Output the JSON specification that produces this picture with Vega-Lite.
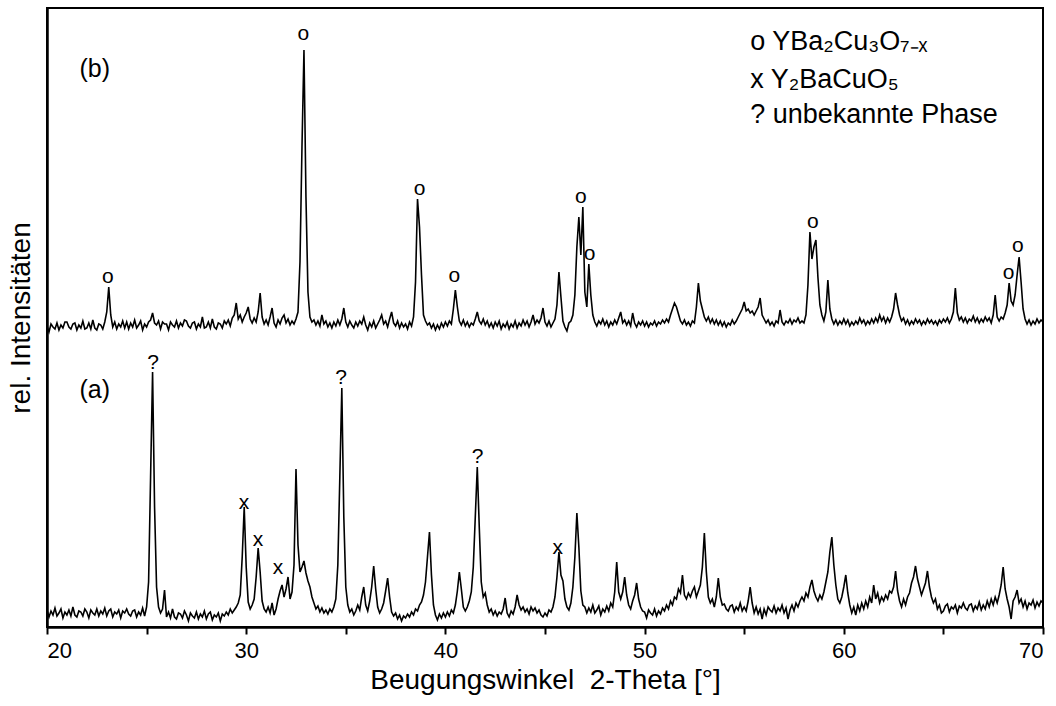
{
"$schema": "https://vega.github.io/schema/vega-lite/v6.json",
"width": 996, "height": 619, "autosize": "none",
"padding": {"left": 47, "top": 8, "right": 13, "bottom": 79},
"config": {"font": "Liberation Sans", "view": {"stroke": "black", "strokeWidth": 2},
 "axis": {"grid": false, "domainColor": "black", "tickColor": "black", "labelColor": "black", "titleColor": "black", "titleFontWeight": "normal"}},
"datasets": {
"xrd": [
{"x":20.0,"a":17,"b":301},{"x":20.1,"a":10,"b":295},{"x":20.2,"a":16,"b":303},{"x":20.3,"a":12,"b":300},{"x":20.4,"a":19,"b":298},{"x":20.5,"a":11,"b":304},{"x":20.6,"a":14,"b":297},{"x":20.7,"a":18,"b":302},{"x":20.8,"a":9,"b":299},{"x":20.9,"a":15,"b":305},
{"x":21.0,"a":12,"b":305},{"x":21.1,"a":17,"b":300},{"x":21.2,"a":11,"b":298},{"x":21.3,"a":20,"b":303},{"x":21.4,"a":12,"b":304},{"x":21.5,"a":10,"b":297},{"x":21.6,"a":16,"b":302},{"x":21.7,"a":15,"b":299},{"x":21.8,"a":11,"b":306},{"x":21.9,"a":18,"b":298},
{"x":22.0,"a":15,"b":299},{"x":22.1,"a":9,"b":304},{"x":22.2,"a":17,"b":298},{"x":22.3,"a":14,"b":307},{"x":22.4,"a":12,"b":299},{"x":22.5,"a":18,"b":297},{"x":22.6,"a":11,"b":303},{"x":22.7,"a":16,"b":302},{"x":22.8,"a":13,"b":298},{"x":22.9,"a":19,"b":305},
{"x":23.0,"a":11,"b":315},{"x":23.1,"a":16,"b":340},{"x":23.2,"a":18,"b":312},{"x":23.3,"a":10,"b":300},{"x":23.4,"a":15,"b":305},{"x":23.5,"a":13,"b":298},{"x":23.6,"a":17,"b":303},{"x":23.7,"a":9,"b":300},{"x":23.8,"a":16,"b":306},{"x":23.9,"a":14,"b":299},
{"x":24.0,"a":18,"b":305},{"x":24.1,"a":13,"b":298},{"x":24.2,"a":11,"b":304},{"x":24.3,"a":16,"b":300},{"x":24.4,"a":17,"b":307},{"x":24.5,"a":10,"b":299},{"x":24.6,"a":15,"b":302},{"x":24.7,"a":12,"b":306},{"x":24.8,"a":19,"b":297},{"x":24.9,"a":11,"b":303},
{"x":25.0,"a":20,"b":300},{"x":25.1,"a":45,"b":305},{"x":25.2,"a":150,"b":307},{"x":25.3,"a":255,"b":314},{"x":25.4,"a":120,"b":304},{"x":25.5,"a":40,"b":302},{"x":25.6,"a":20,"b":306},{"x":25.7,"a":14,"b":298},{"x":25.8,"a":18,"b":305},{"x":25.9,"a":37,"b":303},
{"x":26.0,"a":10,"b":303},{"x":26.1,"a":15,"b":297},{"x":26.2,"a":9,"b":305},{"x":26.3,"a":18,"b":302},{"x":26.4,"a":10,"b":300},{"x":26.5,"a":8,"b":306},{"x":26.6,"a":14,"b":299},{"x":26.7,"a":13,"b":304},{"x":26.8,"a":9,"b":301},{"x":26.9,"a":16,"b":307},
{"x":27.0,"a":12,"b":306},{"x":27.1,"a":6,"b":301},{"x":27.2,"a":14,"b":299},{"x":27.3,"a":11,"b":304},{"x":27.4,"a":9,"b":305},{"x":27.5,"a":15,"b":298},{"x":27.6,"a":8,"b":303},{"x":27.7,"a":13,"b":300},{"x":27.8,"a":10,"b":310},{"x":27.9,"a":16,"b":299},
{"x":28.0,"a":8,"b":300},{"x":28.1,"a":13,"b":305},{"x":28.2,"a":15,"b":299},{"x":28.3,"a":7,"b":308},{"x":28.4,"a":12,"b":300},{"x":28.5,"a":10,"b":298},{"x":28.6,"a":14,"b":304},{"x":28.7,"a":6,"b":303},{"x":28.8,"a":13,"b":299},{"x":28.9,"a":11,"b":306},
{"x":29.0,"a":15,"b":303},{"x":29.1,"a":12,"b":307},{"x":29.2,"a":18,"b":301},{"x":29.3,"a":14,"b":309},{"x":29.4,"a":17,"b":312},{"x":29.5,"a":20,"b":324},{"x":29.6,"a":24,"b":308},{"x":29.7,"a":32,"b":312},{"x":29.8,"a":70,"b":305},{"x":29.9,"a":120,"b":310},
{"x":30.0,"a":60,"b":314},{"x":30.1,"a":25,"b":320},{"x":30.2,"a":18,"b":308},{"x":30.3,"a":22,"b":304},{"x":30.4,"a":28,"b":309},{"x":30.5,"a":50,"b":305},{"x":30.6,"a":79,"b":315},{"x":30.7,"a":55,"b":334},{"x":30.8,"a":26,"b":310},{"x":30.9,"a":18,"b":303},
{"x":31.0,"a":15,"b":307},{"x":31.1,"a":20,"b":302},{"x":31.2,"a":14,"b":310},{"x":31.3,"a":24,"b":319},{"x":31.4,"a":12,"b":304},{"x":31.5,"a":18,"b":300},{"x":31.6,"a":28,"b":307},{"x":31.7,"a":36,"b":303},{"x":31.8,"a":42,"b":309},{"x":31.9,"a":30,"b":312},
{"x":32.0,"a":38,"b":304},{"x":32.1,"a":50,"b":308},{"x":32.2,"a":28,"b":302},{"x":32.3,"a":35,"b":306},{"x":32.4,"a":62,"b":303},{"x":32.5,"a":158,"b":308},{"x":32.6,"a":82,"b":315},{"x":32.7,"a":55,"b":365},{"x":32.8,"a":60,"b":480},{"x":32.9,"a":66,"b":577},
{"x":33.0,"a":54,"b":430},{"x":33.1,"a":46,"b":335},{"x":33.2,"a":40,"b":310},{"x":33.3,"a":30,"b":305},{"x":33.4,"a":24,"b":307},{"x":33.5,"a":18,"b":302},{"x":33.6,"a":21,"b":306},{"x":33.7,"a":15,"b":301},{"x":33.8,"a":19,"b":312},{"x":33.9,"a":14,"b":303},
{"x":34.0,"a":17,"b":306},{"x":34.1,"a":13,"b":300},{"x":34.2,"a":18,"b":304},{"x":34.3,"a":15,"b":299},{"x":34.4,"a":20,"b":305},{"x":34.5,"a":28,"b":301},{"x":34.6,"a":62,"b":307},{"x":34.7,"a":150,"b":302},{"x":34.8,"a":239,"b":308},{"x":34.9,"a":110,"b":319},
{"x":35.0,"a":40,"b":305},{"x":35.1,"a":22,"b":300},{"x":35.2,"a":15,"b":306},{"x":35.3,"a":18,"b":302},{"x":35.4,"a":12,"b":299},{"x":35.5,"a":16,"b":305},{"x":35.6,"a":22,"b":301},{"x":35.7,"a":17,"b":306},{"x":35.8,"a":30,"b":303},{"x":35.9,"a":40,"b":310},
{"x":36.0,"a":22,"b":302},{"x":36.1,"a":16,"b":297},{"x":36.2,"a":26,"b":304},{"x":36.3,"a":40,"b":300},{"x":36.4,"a":61,"b":306},{"x":36.5,"a":38,"b":299},{"x":36.6,"a":20,"b":303},{"x":36.7,"a":14,"b":307},{"x":36.8,"a":18,"b":312},{"x":36.9,"a":24,"b":303},
{"x":37.0,"a":36,"b":306},{"x":37.1,"a":49,"b":300},{"x":37.2,"a":30,"b":308},{"x":37.3,"a":15,"b":315},{"x":37.4,"a":11,"b":304},{"x":37.5,"a":14,"b":301},{"x":37.6,"a":8,"b":306},{"x":37.7,"a":12,"b":299},{"x":37.8,"a":6,"b":304},{"x":37.9,"a":11,"b":300},
{"x":38.0,"a":9,"b":303},{"x":38.1,"a":13,"b":298},{"x":38.2,"a":10,"b":305},{"x":38.3,"a":15,"b":301},{"x":38.4,"a":12,"b":310},{"x":38.5,"a":18,"b":345},{"x":38.6,"a":16,"b":428},{"x":38.7,"a":22,"b":400},{"x":38.8,"a":25,"b":352},{"x":38.9,"a":32,"b":312},
{"x":39.0,"a":45,"b":306},{"x":39.1,"a":70,"b":302},{"x":39.2,"a":95,"b":304},{"x":39.3,"a":52,"b":299},{"x":39.4,"a":22,"b":303},{"x":39.5,"a":12,"b":297},{"x":39.6,"a":7,"b":302},{"x":39.7,"a":13,"b":298},{"x":39.8,"a":9,"b":304},{"x":39.9,"a":14,"b":300},
{"x":40.0,"a":10,"b":305},{"x":40.1,"a":15,"b":301},{"x":40.2,"a":11,"b":306},{"x":40.3,"a":17,"b":303},{"x":40.4,"a":14,"b":318},{"x":40.5,"a":22,"b":337},{"x":40.6,"a":36,"b":320},{"x":40.7,"a":55,"b":306},{"x":40.8,"a":38,"b":302},{"x":40.9,"a":20,"b":307},
{"x":41.0,"a":16,"b":301},{"x":41.1,"a":20,"b":305},{"x":41.2,"a":26,"b":300},{"x":41.3,"a":35,"b":304},{"x":41.4,"a":60,"b":302},{"x":41.5,"a":110,"b":308},{"x":41.6,"a":160,"b":315},{"x":41.7,"a":100,"b":306},{"x":41.8,"a":45,"b":303},{"x":41.9,"a":30,"b":308},
{"x":42.0,"a":34,"b":302},{"x":42.1,"a":22,"b":306},{"x":42.2,"a":15,"b":300},{"x":42.3,"a":18,"b":304},{"x":42.4,"a":12,"b":299},{"x":42.5,"a":16,"b":305},{"x":42.6,"a":11,"b":301},{"x":42.7,"a":15,"b":306},{"x":42.8,"a":13,"b":298},{"x":42.9,"a":18,"b":303},
{"x":43.0,"a":29,"b":300},{"x":43.1,"a":14,"b":305},{"x":43.2,"a":10,"b":298},{"x":43.3,"a":16,"b":303},{"x":43.4,"a":13,"b":300},{"x":43.5,"a":20,"b":306},{"x":43.6,"a":32,"b":299},{"x":43.7,"a":22,"b":304},{"x":43.8,"a":17,"b":301},{"x":43.9,"a":20,"b":307},
{"x":44.0,"a":15,"b":302},{"x":44.1,"a":18,"b":306},{"x":44.2,"a":13,"b":300},{"x":44.3,"a":20,"b":305},{"x":44.4,"a":16,"b":312},{"x":44.5,"a":19,"b":303},{"x":44.6,"a":14,"b":307},{"x":44.7,"a":17,"b":304},{"x":44.8,"a":12,"b":309},{"x":44.9,"a":10,"b":319},
{"x":45.0,"a":14,"b":305},{"x":45.1,"a":11,"b":301},{"x":45.2,"a":17,"b":306},{"x":45.3,"a":15,"b":300},{"x":45.4,"a":20,"b":304},{"x":45.5,"a":30,"b":308},{"x":45.6,"a":50,"b":322},{"x":45.7,"a":75,"b":355},{"x":45.8,"a":52,"b":330},{"x":45.9,"a":46,"b":306},
{"x":46.0,"a":28,"b":300},{"x":46.1,"a":20,"b":296},{"x":46.2,"a":17,"b":304},{"x":46.3,"a":24,"b":306},{"x":46.4,"a":40,"b":312},{"x":46.5,"a":70,"b":332},{"x":46.6,"a":114,"b":380},{"x":46.7,"a":80,"b":410},{"x":46.8,"a":36,"b":372},{"x":46.9,"a":22,"b":420},
{"x":47.0,"a":20,"b":335},{"x":47.1,"a":14,"b":320},{"x":47.2,"a":19,"b":363},{"x":47.3,"a":15,"b":332},{"x":47.4,"a":22,"b":312},{"x":47.5,"a":14,"b":305},{"x":47.6,"a":17,"b":301},{"x":47.7,"a":21,"b":306},{"x":47.8,"a":12,"b":303},{"x":47.9,"a":18,"b":308},
{"x":48.0,"a":15,"b":302},{"x":48.1,"a":21,"b":306},{"x":48.2,"a":16,"b":300},{"x":48.3,"a":24,"b":305},{"x":48.4,"a":20,"b":302},{"x":48.5,"a":35,"b":307},{"x":48.6,"a":65,"b":303},{"x":48.7,"a":35,"b":309},{"x":48.8,"a":28,"b":315},{"x":48.9,"a":35,"b":304},
{"x":49.0,"a":50,"b":307},{"x":49.1,"a":32,"b":302},{"x":49.2,"a":22,"b":306},{"x":49.3,"a":18,"b":301},{"x":49.4,"a":26,"b":314},{"x":49.5,"a":32,"b":304},{"x":49.6,"a":44,"b":300},{"x":49.7,"a":28,"b":305},{"x":49.8,"a":20,"b":302},{"x":49.9,"a":16,"b":306},
{"x":50.0,"a":15,"b":301},{"x":50.1,"a":9,"b":305},{"x":50.2,"a":17,"b":300},{"x":50.3,"a":14,"b":304},{"x":50.4,"a":12,"b":302},{"x":50.5,"a":18,"b":306},{"x":50.6,"a":11,"b":301},{"x":50.7,"a":16,"b":305},{"x":50.8,"a":13,"b":303},{"x":50.9,"a":19,"b":307},
{"x":51.0,"a":16,"b":304},{"x":51.1,"a":22,"b":308},{"x":51.2,"a":18,"b":305},{"x":51.3,"a":26,"b":312},{"x":51.4,"a":22,"b":318},{"x":51.5,"a":30,"b":324},{"x":51.6,"a":28,"b":320},{"x":51.7,"a":38,"b":313},{"x":51.8,"a":34,"b":306},{"x":51.9,"a":52,"b":303},
{"x":52.0,"a":32,"b":307},{"x":52.1,"a":28,"b":302},{"x":52.2,"a":34,"b":305},{"x":52.3,"a":30,"b":301},{"x":52.4,"a":36,"b":306},{"x":52.5,"a":40,"b":304},{"x":52.6,"a":30,"b":320},{"x":52.7,"a":36,"b":344},{"x":52.8,"a":42,"b":326},{"x":52.9,"a":60,"b":318},
{"x":53.0,"a":94,"b":310},{"x":53.1,"a":55,"b":306},{"x":53.2,"a":30,"b":310},{"x":53.3,"a":24,"b":304},{"x":53.4,"a":28,"b":308},{"x":53.5,"a":20,"b":303},{"x":53.6,"a":30,"b":307},{"x":53.7,"a":49,"b":302},{"x":53.8,"a":30,"b":306},{"x":53.9,"a":22,"b":301},
{"x":54.0,"a":23,"b":305},{"x":54.1,"a":18,"b":300},{"x":54.2,"a":16,"b":304},{"x":54.3,"a":21,"b":302},{"x":54.4,"a":22,"b":307},{"x":54.5,"a":15,"b":303},{"x":54.6,"a":20,"b":306},{"x":54.7,"a":17,"b":310},{"x":54.8,"a":24,"b":314},{"x":54.9,"a":16,"b":318},
{"x":55.0,"a":20,"b":325},{"x":55.1,"a":16,"b":316},{"x":55.2,"a":26,"b":318},{"x":55.3,"a":40,"b":314},{"x":55.4,"a":24,"b":316},{"x":55.5,"a":14,"b":312},{"x":55.6,"a":20,"b":316},{"x":55.7,"a":13,"b":320},{"x":55.8,"a":18,"b":329},{"x":55.9,"a":8,"b":312},
{"x":56.0,"a":18,"b":308},{"x":56.1,"a":12,"b":304},{"x":56.2,"a":20,"b":307},{"x":56.3,"a":17,"b":302},{"x":56.4,"a":15,"b":305},{"x":56.5,"a":21,"b":301},{"x":56.6,"a":14,"b":306},{"x":56.7,"a":19,"b":304},{"x":56.8,"a":16,"b":317},{"x":56.9,"a":22,"b":305},
{"x":57.0,"a":14,"b":302},{"x":57.1,"a":19,"b":306},{"x":57.2,"a":8,"b":304},{"x":57.3,"a":17,"b":308},{"x":57.4,"a":22,"b":303},{"x":57.5,"a":16,"b":307},{"x":57.6,"a":24,"b":305},{"x":57.7,"a":20,"b":309},{"x":57.8,"a":26,"b":304},{"x":57.9,"a":30,"b":306},
{"x":58.0,"a":26,"b":304},{"x":58.1,"a":34,"b":312},{"x":58.2,"a":30,"b":342},{"x":58.3,"a":40,"b":395},{"x":58.4,"a":47,"b":368},{"x":58.5,"a":36,"b":380},{"x":58.6,"a":30,"b":387},{"x":58.7,"a":26,"b":350},{"x":58.8,"a":32,"b":322},{"x":58.9,"a":28,"b":312},
{"x":59.0,"a":35,"b":306},{"x":59.1,"a":45,"b":315},{"x":59.2,"a":55,"b":347},{"x":59.3,"a":75,"b":318},{"x":59.4,"a":90,"b":308},{"x":59.5,"a":62,"b":303},{"x":59.6,"a":42,"b":307},{"x":59.7,"a":28,"b":302},{"x":59.8,"a":24,"b":306},{"x":59.9,"a":30,"b":303},
{"x":60.0,"a":40,"b":308},{"x":60.1,"a":52,"b":303},{"x":60.2,"a":34,"b":307},{"x":60.3,"a":22,"b":301},{"x":60.4,"a":14,"b":305},{"x":60.5,"a":20,"b":302},{"x":60.6,"a":12,"b":306},{"x":60.7,"a":22,"b":303},{"x":60.8,"a":16,"b":309},{"x":60.9,"a":24,"b":304},
{"x":61.0,"a":18,"b":307},{"x":61.1,"a":26,"b":302},{"x":61.2,"a":20,"b":306},{"x":61.3,"a":30,"b":303},{"x":61.4,"a":24,"b":308},{"x":61.5,"a":42,"b":304},{"x":61.6,"a":28,"b":309},{"x":61.7,"a":34,"b":305},{"x":61.8,"a":24,"b":312},{"x":61.9,"a":30,"b":306},
{"x":62.0,"a":26,"b":310},{"x":62.1,"a":32,"b":304},{"x":62.2,"a":28,"b":309},{"x":62.3,"a":36,"b":305},{"x":62.4,"a":34,"b":310},{"x":62.5,"a":40,"b":318},{"x":62.6,"a":56,"b":334},{"x":62.7,"a":36,"b":322},{"x":62.8,"a":26,"b":312},{"x":62.9,"a":20,"b":306},
{"x":63.0,"a":28,"b":309},{"x":63.1,"a":22,"b":303},{"x":63.2,"a":30,"b":307},{"x":63.3,"a":34,"b":302},{"x":63.4,"a":44,"b":306},{"x":63.5,"a":50,"b":303},{"x":63.6,"a":61,"b":308},{"x":63.7,"a":48,"b":304},{"x":63.8,"a":40,"b":307},{"x":63.9,"a":32,"b":302},
{"x":64.0,"a":38,"b":306},{"x":64.1,"a":44,"b":303},{"x":64.2,"a":56,"b":308},{"x":64.3,"a":40,"b":304},{"x":64.4,"a":30,"b":307},{"x":64.5,"a":24,"b":303},{"x":64.6,"a":28,"b":306},{"x":64.7,"a":18,"b":302},{"x":64.8,"a":22,"b":307},{"x":64.9,"a":14,"b":304},
{"x":65.0,"a":16,"b":308},{"x":65.1,"a":21,"b":305},{"x":65.2,"a":23,"b":309},{"x":65.3,"a":15,"b":304},{"x":65.4,"a":20,"b":308},{"x":65.5,"a":18,"b":315},{"x":65.6,"a":22,"b":339},{"x":65.7,"a":14,"b":314},{"x":65.8,"a":21,"b":307},{"x":65.9,"a":19,"b":310},
{"x":66.0,"a":24,"b":305},{"x":66.1,"a":19,"b":309},{"x":66.2,"a":17,"b":304},{"x":66.3,"a":22,"b":308},{"x":66.4,"a":23,"b":306},{"x":66.5,"a":16,"b":311},{"x":66.6,"a":21,"b":305},{"x":66.7,"a":18,"b":309},{"x":66.8,"a":25,"b":304},{"x":66.9,"a":17,"b":308},
{"x":67.0,"a":22,"b":305},{"x":67.1,"a":18,"b":310},{"x":67.2,"a":26,"b":306},{"x":67.3,"a":20,"b":309},{"x":67.4,"a":28,"b":304},{"x":67.5,"a":22,"b":312},{"x":67.6,"a":30,"b":332},{"x":67.7,"a":24,"b":310},{"x":67.8,"a":32,"b":306},{"x":67.9,"a":42,"b":310},
{"x":68.0,"a":60,"b":308},{"x":68.1,"a":38,"b":314},{"x":68.2,"a":28,"b":322},{"x":68.3,"a":20,"b":344},{"x":68.4,"a":8,"b":326},{"x":68.5,"a":26,"b":322},{"x":68.6,"a":30,"b":332},{"x":68.7,"a":37,"b":352},{"x":68.8,"a":24,"b":370},{"x":68.9,"a":28,"b":345},
{"x":69.0,"a":20,"b":318},{"x":69.1,"a":26,"b":308},{"x":69.2,"a":18,"b":303},{"x":69.3,"a":24,"b":307},{"x":69.4,"a":22,"b":302},{"x":69.5,"a":27,"b":306},{"x":69.6,"a":19,"b":303},{"x":69.7,"a":25,"b":308},{"x":69.8,"a":21,"b":304},{"x":69.9,"a":26,"b":307},
{"x":70.0,"a":24,"b":305}
],
"marks": [
{"x":23.05,"y":350,"t":"o"},{"x":32.87,"y":593,"t":"o"},{"x":38.7,"y":438,"t":"o"},{"x":40.45,"y":351,"t":"o"},
{"x":46.8,"y":430,"t":"o"},{"x":47.24,"y":373,"t":"o"},{"x":58.44,"y":405,"t":"o"},{"x":68.27,"y":354,"t":"o"},{"x":68.74,"y":381,"t":"o"},
{"x":25.32,"y":264,"t":"?"},{"x":29.89,"y":124,"t":"x"},{"x":30.59,"y":87,"t":"x"},{"x":31.6,"y":59,"t":"x"},
{"x":34.76,"y":249,"t":"?"},{"x":41.62,"y":170,"t":"?"},{"x":45.64,"y":79,"t":"x"}
],
"panel": [{"x":22.4,"y":558,"t":"(b)"},{"x":22.4,"y":237,"t":"(a)"}],
"leg": [{"x":55.3,"y":585,"t":"o YBa₂Cu₃O₇₋ₓ"},{"x":55.3,"y":547,"t":"x Y₂BaCuO₅"},{"x":55.3,"y":512,"t":"? unbekannte Phase"}]
},
"encoding": {
 "x": {"field": "x", "type": "quantitative", "scale": {"domain": [20, 70], "nice": false, "zero": false},
  "axis": {"values": [20,25,30,35,40,45,50,55,60,65,70], "labelExpr": "datum.value % 10 == 0 ? datum.label : ''",
   "tickSize": 7, "tickWidth": 2, "domainWidth": 2.5, "labelFontSize": 22, "labelPadding": 6,
   "title": "Beugungswinkel\u00a0 2-Theta [°]", "titleFontSize": 28, "titlePadding": 5}}
},
"layer": [
 {"data": {"name": "xrd"}, "mark": {"type": "line", "color": "black", "strokeWidth": 1.6},
  "encoding": {"y": {"field": "a", "type": "quantitative", "scale": {"domain": [0, 619], "nice": false},
   "axis": {"labels": false, "ticks": false, "domainWidth": 2.5, "title": "rel. Intensitäten", "titleFontSize": 28, "titlePadding": 12}}}},
 {"data": {"name": "xrd"}, "mark": {"type": "line", "color": "black", "strokeWidth": 1.6},
  "encoding": {"y": {"field": "b", "type": "quantitative", "title": "rel. Intensitäten"}}},
 {"data": {"name": "marks"}, "mark": {"type": "text", "fontSize": 21, "align": "center", "baseline": "middle", "color": "black"},
  "encoding": {"y": {"field": "y", "type": "quantitative", "title": "rel. Intensitäten"}, "text": {"field": "t"}}},
 {"data": {"name": "panel"}, "mark": {"type": "text", "fontSize": 25, "align": "center", "baseline": "middle", "color": "black"},
  "encoding": {"y": {"field": "y", "type": "quantitative", "title": "rel. Intensitäten"}, "text": {"field": "t"}}},
 {"data": {"name": "leg"}, "mark": {"type": "text", "fontSize": 27, "align": "left", "baseline": "middle", "color": "black"},
  "encoding": {"y": {"field": "y", "type": "quantitative", "title": "rel. Intensitäten"}, "text": {"field": "t"}}}
]
}
